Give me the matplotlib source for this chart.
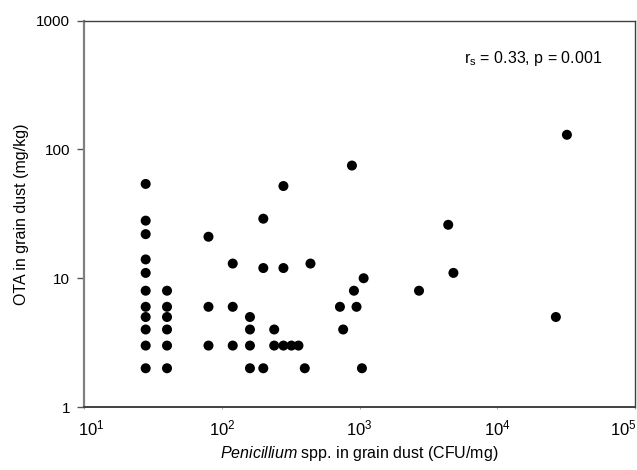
import numpy as np
import matplotlib
matplotlib.use('Agg')
from matplotlib import pyplot as plt
from matplotlib.ticker import NullLocator
from matplotlib.transforms import ScaledTranslation

plt.rcParams['font.family'] = ['Liberation Sans', 'DejaVu Sans']
plt.rcParams['mathtext.fontset'] = 'custom'
plt.rcParams['mathtext.rm'] = 'Liberation Sans'
plt.rcParams['mathtext.it'] = 'Liberation Sans:italic'

# Penicillium (CFU/mg) vs OTA (mg/kg)
penicillium = [28] * 11 + [40] * 6 + [80] * 3 + [120] * 3 + [160] * 4 + [200] * 3 + [240] * 2 \
    + [280] * 3 + [320, 360, 400, 440, 720, 760, 880, 910, 950, 1040, 1070, 2700, 4400, 4800, 26600, 32000]
ota = [54, 28, 22, 14, 11, 8, 6, 5, 4, 3, 2,
       8, 6, 5, 4, 3, 2,
       21, 6, 3,
       13, 6, 3,
       5, 4, 3, 2,
       29, 12, 2,
       4, 3,
       52, 12, 3,
       3, 3, 2, 13, 6, 4, 75, 8, 6, 2, 10, 8, 26, 11, 5, 130]

x_ticks = [1e1, 1e2, 1e3, 1e4, 1e5]
y_ticks = [1, 10, 100, 1000]
y_tick_labels = ['1', '10', '100', '1000']
stat_text = 'r$_\\mathrm{s}$ = 0.33, p = 0.001'

fig = plt.figure(figsize=(6.37, 4.70), dpi=100)
ax = fig.add_axes([0.132, 0.134, 0.865, 0.822])

ax.scatter(penicillium, ota, s=52, color='black', edgecolors='none', zorder=3)

ax.set_xscale('log')
ax.set_yscale('log')
ax.set_xlim(1e1, 1e5)
ax.set_ylim(1, 1000)
ax.set_xticks(x_ticks)
ax.set_yticks(y_ticks)
ax.set_yticklabels(y_tick_labels)
ax.xaxis.set_minor_locator(NullLocator())
ax.yaxis.set_minor_locator(NullLocator())

ax.tick_params(axis='y', direction='out', length=5, width=1, color='#555555',
               labelsize=11, pad=5)
ax.tick_params(axis='x', direction='out', length=1.5, width=0.6, color='#999999',
               labelsize=12, pad=7)

# first and last x labels sit a little inside the frame
ticks = ax.xaxis.get_major_ticks()
ticks[0].label1.set_transform(ticks[0].label1.get_transform() + ScaledTranslation(7 / 100, 0, fig.dpi_scale_trans))
ticks[-1].label1.set_transform(ticks[-1].label1.get_transform() + ScaledTranslation(-12 / 100, 0, fig.dpi_scale_trans))

ax.spines['left'].set_color('#808080')
ax.spines['left'].set_linewidth(1.6)
ax.spines['bottom'].set_color('#404040')
ax.spines['bottom'].set_linewidth(1.4)
ax.spines['top'].set_color('#404040')
ax.spines['top'].set_linewidth(1.0)
ax.spines['right'].set_color('#404040')
ax.spines['right'].set_linewidth(1.0)

ax.set_xlabel('$\\mathit{Penicillium}$ spp. in grain dust (CFU/mg)', fontsize=11.5, labelpad=4)
ax.set_ylabel('OTA in grain dust (mg/kg)', fontsize=11.5, labelpad=5)

ax.text(0.94, 0.903, stat_text, transform=ax.transAxes, ha='right', va='center', fontsize=11.5)

fig.savefig('out.png', dpi=100)
